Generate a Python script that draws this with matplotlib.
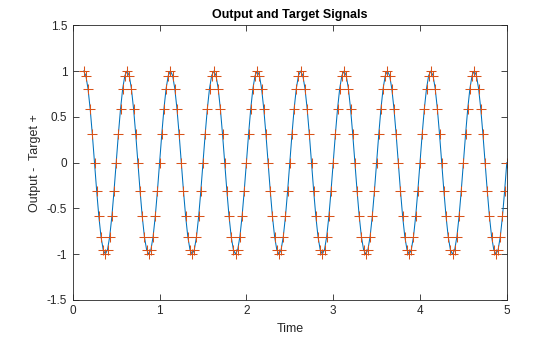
import matplotlib.pyplot as plt

plt.rcParams['font.family'] = ['Liberation Sans', 'DejaVu Sans']

# sample times (s): 0.125 ... 5.0
time = [
    0.125, 0.15, 0.175, 0.2, 0.225, 0.25, 0.275, 0.3, 0.325, 0.35,
    0.375, 0.4, 0.425, 0.45, 0.475, 0.5, 0.525, 0.55, 0.575, 0.6,
    0.625, 0.65, 0.675, 0.7, 0.725, 0.75, 0.775, 0.8, 0.825, 0.85,
    0.875, 0.9, 0.925, 0.95, 0.975, 1.0, 1.025, 1.05, 1.075, 1.1,
    1.125, 1.15, 1.175, 1.2, 1.225, 1.25, 1.275, 1.3, 1.325, 1.35,
    1.375, 1.4, 1.425, 1.45, 1.475, 1.5, 1.525, 1.55, 1.575, 1.6,
    1.625, 1.65, 1.675, 1.7, 1.725, 1.75, 1.775, 1.8, 1.825, 1.85,
    1.875, 1.9, 1.925, 1.95, 1.975, 2.0, 2.025, 2.05, 2.075, 2.1,
    2.125, 2.15, 2.175, 2.2, 2.225, 2.25, 2.275, 2.3, 2.325, 2.35,
    2.375, 2.4, 2.425, 2.45, 2.475, 2.5, 2.525, 2.55, 2.575, 2.6,
    2.625, 2.65, 2.675, 2.7, 2.725, 2.75, 2.775, 2.8, 2.825, 2.85,
    2.875, 2.9, 2.925, 2.95, 2.975, 3.0, 3.025, 3.05, 3.075, 3.1,
    3.125, 3.15, 3.175, 3.2, 3.225, 3.25, 3.275, 3.3, 3.325, 3.35,
    3.375, 3.4, 3.425, 3.45, 3.475, 3.5, 3.525, 3.55, 3.575, 3.6,
    3.625, 3.65, 3.675, 3.7, 3.725, 3.75, 3.775, 3.8, 3.825, 3.85,
    3.875, 3.9, 3.925, 3.95, 3.975, 4.0, 4.025, 4.05, 4.075, 4.1,
    4.125, 4.15, 4.175, 4.2, 4.225, 4.25, 4.275, 4.3, 4.325, 4.35,
    4.375, 4.4, 4.425, 4.45, 4.475, 4.5, 4.525, 4.55, 4.575, 4.6,
    4.625, 4.65, 4.675, 4.7, 4.725, 4.75, 4.775, 4.8, 4.825, 4.85,
    4.875, 4.9, 4.925, 4.95, 4.975, 5.0,
]

# target values (the + markers), one period per row
target = [
    1, 0.951, 0.809, 0.588, 0.309, 0, -0.309, -0.588, -0.809, -0.951,
    -1, -0.951, -0.809, -0.588, -0.309, 0, 0.309, 0.588, 0.809, 0.951,
    1, 0.951, 0.809, 0.588, 0.309, 0, -0.309, -0.588, -0.809, -0.951,
    -1, -0.951, -0.809, -0.588, -0.309, 0, 0.309, 0.588, 0.809, 0.951,
    1, 0.951, 0.809, 0.588, 0.309, 0, -0.309, -0.588, -0.809, -0.951,
    -1, -0.951, -0.809, -0.588, -0.309, 0, 0.309, 0.588, 0.809, 0.951,
    1, 0.951, 0.809, 0.588, 0.309, 0, -0.309, -0.588, -0.809, -0.951,
    -1, -0.951, -0.809, -0.588, -0.309, 0, 0.309, 0.588, 0.809, 0.951,
    1, 0.951, 0.809, 0.588, 0.309, 0, -0.309, -0.588, -0.809, -0.951,
    -1, -0.951, -0.809, -0.588, -0.309, 0, 0.309, 0.588, 0.809, 0.951,
    1, 0.951, 0.809, 0.588, 0.309, 0, -0.309, -0.588, -0.809, -0.951,
    -1, -0.951, -0.809, -0.588, -0.309, 0, 0.309, 0.588, 0.809, 0.951,
    1, 0.951, 0.809, 0.588, 0.309, 0, -0.309, -0.588, -0.809, -0.951,
    -1, -0.951, -0.809, -0.588, -0.309, 0, 0.309, 0.588, 0.809, 0.951,
    1, 0.951, 0.809, 0.588, 0.309, 0, -0.309, -0.588, -0.809, -0.951,
    -1, -0.951, -0.809, -0.588, -0.309, 0, 0.309, 0.588, 0.809, 0.951,
    1, 0.951, 0.809, 0.588, 0.309, 0, -0.309, -0.588, -0.809, -0.951,
    -1, -0.951, -0.809, -0.588, -0.309, 0, 0.309, 0.588, 0.809, 0.951,
    1, 0.951, 0.809, 0.588, 0.309, 0, -0.309, -0.588, -0.809, -0.951,
    -1, -0.951, -0.809, -0.588, -0.309, 0,
]

# network output runs right through the targets
output = list(target)

xticks = [0, 1, 2, 3, 4, 5]
yticks = [-1.5, -1, -0.5, 0, 0.5, 1, 1.5]
ytick_labels = ['-1.5', '-1', '-0.5', '0', '0.5', '1', '1.5']

axcol = '#262626'

fig = plt.figure(figsize=(5.6, 3.37), dpi=100)
ax = fig.add_axes([0.13, 0.11, 0.775, 0.815])

ax.plot(time, output, color='#0072BD', lw=0.75)
ax.plot(time, target, '+', color='#D95319', ms=7, mew=0.75)

ax.set_xlim(0, 5)
ax.set_ylim(-1.5, 1.5)
ax.set_xticks(xticks)
ax.set_xticklabels([str(v) for v in xticks])
ax.set_yticks(yticks)
ax.set_yticklabels(ytick_labels)

ax.tick_params(direction='in', length=4, width=0.6, colors=axcol,
               labelsize=8.5, top=True, right=True, pad=4)
for s in ax.spines.values():
    s.set_color(axcol)
    s.set_linewidth(0.6)

ax.set_xlabel('Time', fontsize=9, color=axcol, labelpad=4)
ax.set_ylabel('Output -  Target +', fontsize=9, color=axcol, labelpad=4)
ax.set_title('Output and Target Signals', fontsize=9, fontweight='bold',
             color='black', pad=5)

fig.savefig('out.png', dpi=100)
